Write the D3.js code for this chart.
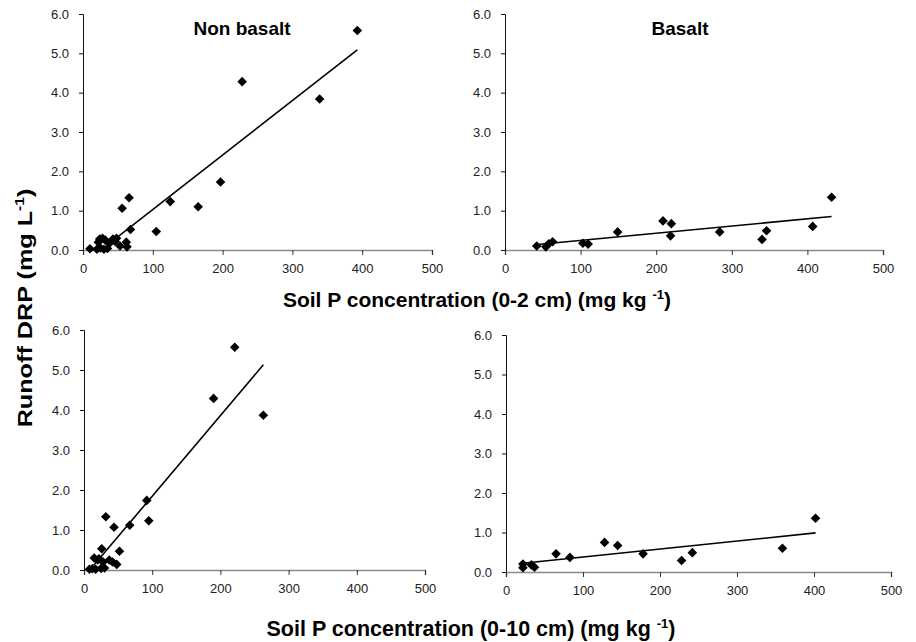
<!DOCTYPE html>
<html><head><meta charset="utf-8">
<script src="https://cdn.jsdelivr.net/npm/d3@7"></script>
<style>body{margin:0;background:#fff}svg{display:block}text{font-family:"Liberation Sans",Arial,sans-serif}</style>
</head><body>
<svg id="c" width="916" height="642"></svg>
<script>
// ---- data ----
const xTicks = [0,100,200,300,400,500];
const yTicks = [0,1,2,3,4,5,6];
const panelTitles = ["Non basalt","Basalt","",""];
// Non basalt, 0-2 cm  [soil P, DRP]
const nonBasalt02 = [[10,0.03],[20,0.02],[22,0.2],[24,0.28],[25,0.05],[28,0.3],[30,0.02],[32,0.25],[35,0.04],[38,0.17],[43,0.28],[46,0.22],[48,0.3],[53,0.1],[56,1.06],[62,0.2],[63,0.08],[66,1.33],[68,0.52],[105,0.47],[125,1.23],[165,1.1],[197,1.73],[228,4.28],[339,3.84],[393,5.58]];
// Basalt, 0-2 cm
const basalt02 = [[42,0.1],[54,0.08],[58,0.16],[63,0.21],[103,0.17],[110,0.15],[149,0.46],[209,0.74],[219,0.36],[220,0.67],[284,0.46],[340,0.27],[346,0.49],[407,0.6],[432,1.34]];
// Non basalt, 0-10 cm
const nonBasalt010 = [[8,0.02],[12,0.03],[15,0.3],[17,0.02],[20,0.25],[22,0.28],[25,0.04],[26,0.53],[28,0.2],[30,0.05],[32,1.33],[37,0.25],[42,0.2],[44,1.07],[48,0.14],[52,0.47],[67,1.12],[92,1.74],[95,1.23],[190,4.29],[221,5.57],[263,3.87]];
// Basalt, 0-10 cm
const basalt010 = [[22,0.2],[22,0.11],[33,0.18],[37,0.12],[65,0.46],[83,0.37],[128,0.75],[145,0.67],[178,0.46],[228,0.29],[242,0.49],[359,0.6],[402,1.36]];
// trend lines (endpoints)
const trendNB02 = [[36,0.14],[393,5.09]];
const trendB02 = [[43,0.14],[432,0.85]];
const trendNB010 = [[14,0.11],[263,5.13]];
const trendB010 = [[22,0.22],[402,0.99]];

const svg = d3.select("#c");
const panels = [
  {data:nonBasalt02, trend:trendNB02, xr:[83,432], yr:[250,14], title:panelTitles[0], tx:242},
  {data:basalt02, trend:trendB02, xr:[505,883], yr:[250,14], title:panelTitles[1], tx:680},
  {data:nonBasalt010, trend:trendNB010, xr:[84,425], yr:[570,330], title:panelTitles[2]},
  {data:basalt010, trend:trendB010, xr:[506,891], yr:[572,335], title:panelTitles[3]}
];
const diamond = r => `M0,${-r}L${r},0L0,${r}L${-r},0Z`;

panels.forEach(p => {
  const x = d3.scaleLinear().domain([0,500]).range(p.xr);
  const y = d3.scaleLinear().domain([0,6]).range(p.yr);
  const g = svg.append("g");
  // x axis
  const xa = g.append("g").attr("transform",`translate(0,${p.yr[0]})`)
    .call(d3.axisBottom(x).tickValues(xTicks).tickFormat(d3.format("d")).tickSizeOuter(0).tickSize(5).tickPadding(9));
  xa.select(".domain").attr("stroke","#8a8a8a").attr("stroke-width",1.5);
  xa.selectAll(".tick line").attr("stroke","#333");
  xa.selectAll("text").attr("font-size",13).attr("fill","#222");
  // y axis
  const ya = g.append("g").attr("transform",`translate(${p.xr[0]},0)`)
    .call(d3.axisLeft(y).tickValues(yTicks).tickFormat(d3.format(".1f")).tickSizeOuter(0).tickSize(4).tickPadding(10));
  ya.select(".domain").attr("stroke","#111").attr("stroke-width",1);
  ya.selectAll(".tick line").attr("stroke","#111");
  ya.selectAll("text").attr("font-size",13).attr("fill","#222");
  // trend line
  g.append("path").datum(p.trend)
    .attr("d", d3.line().x(d=>x(d[0])).y(d=>y(d[1])))
    .attr("stroke","#000").attr("stroke-width",1.6).attr("fill","none");
  // markers
  g.selectAll("path.pt").data(p.data).join("path").attr("class","pt")
    .attr("transform", d=>`translate(${x(d[0])},${y(d[1])})`)
    .attr("d", diamond(4.8)).attr("fill","#000");
  if (p.title) {
    g.append("text").attr("x",p.tx).attr("y",35)
      .attr("text-anchor","middle").attr("font-size",19).attr("font-weight","bold").text(p.title);
  }
});

function xTitle(yPos, cx, label, fs) {
  const t = svg.append("text").attr("x",cx).attr("y",yPos).attr("text-anchor","middle")
    .attr("font-size",fs).attr("font-weight","bold").attr("fill","#000");
  t.append("tspan").text(label + " (mg kg ");
  t.append("tspan").attr("font-size",13).attr("dy",-8).text("-1");
  t.append("tspan").attr("dy",8).text(")");
}
xTitle(307, 477, "Soil P concentration (0-2 cm)", 21);
xTitle(636, 471, "Soil P concentration (0-10 cm)", 21.5);

const yt = svg.append("text").attr("transform","translate(32,308) rotate(-90) scale(1.2,1)")
  .attr("text-anchor","middle").attr("font-size",21).attr("font-weight","bold");
yt.append("tspan").text("Runoff DRP (mg L");
yt.append("tspan").attr("font-size",13).attr("dy",-8).text("-1");
yt.append("tspan").attr("dy",8).text(")");
</script>
</body></html>
